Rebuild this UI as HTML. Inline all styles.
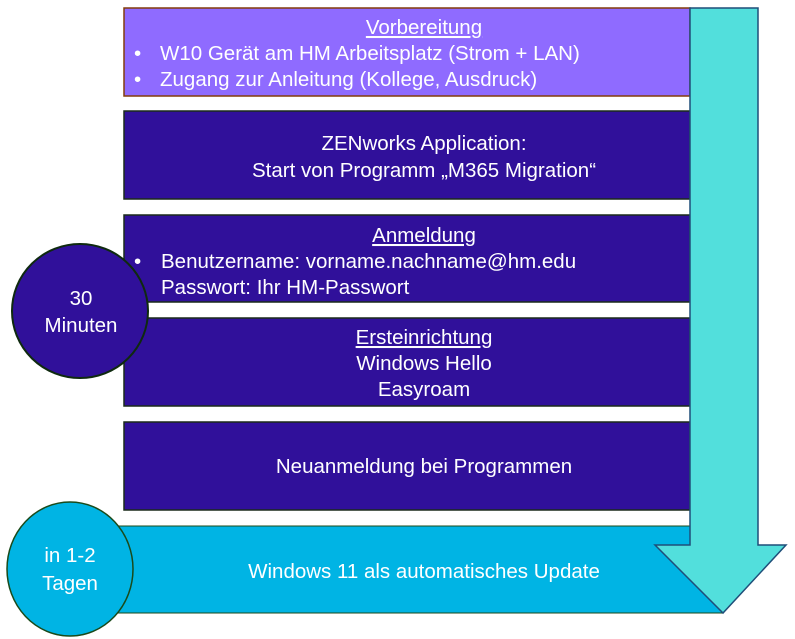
<!DOCTYPE html>
<html><head><meta charset="utf-8"><style>
html,body{margin:0;padding:0;background:#fff;}
svg{display:block;font-family:"Liberation Sans",sans-serif;}
</style></head><body>
<svg width="795" height="639" viewBox="0 0 795 639">
<rect x="124" y="8" width="566" height="88" fill="#8F6BFF" stroke="#843C0C" stroke-width="1.5"/>
<rect x="124" y="111" width="566" height="88" fill="#30109A" stroke="#1a2a1a" stroke-width="1.5"/>
<rect x="124" y="215" width="566" height="87" fill="#30109A" stroke="#1a2a1a" stroke-width="1.5"/>
<rect x="124" y="318" width="566" height="88" fill="#30109A" stroke="#1a2a1a" stroke-width="1.5"/>
<rect x="124" y="422" width="566" height="88" fill="#30109A" stroke="#1a2a1a" stroke-width="1.5"/>
<polygon points="100,526 723,526 723,613 100,613" fill="#00B4E4" stroke="#1a4a1a" stroke-width="1"/>
<polygon points="690,8 758,8 758,545 786,545 723,613 655,545 690,545" fill="#52DFDC" stroke="#1F4E79" stroke-width="1.5"/>
<ellipse cx="80" cy="311" rx="68" ry="67" fill="#30109A" stroke="#0f2a0f" stroke-width="2"/>
<ellipse cx="70" cy="569" rx="63" ry="67" fill="#00B4E4" stroke="#1a4a1a" stroke-width="1.5"/>
<g font-size="20.5" fill="#fff" text-anchor="middle">
<text x="424" y="34" text-decoration="underline">Vorbereitung</text>
<text x="424" y="150">ZENworks Application:</text>
<text x="424" y="177">Start von Programm „M365 Migration“</text>
<text x="424" y="242" text-decoration="underline">Anmeldung</text>
<text x="424" y="344" text-decoration="underline">Ersteinrichtung</text>
<text x="424" y="370">Windows Hello</text>
<text x="424" y="396">Easyroam</text>
<text x="424" y="473">Neuanmeldung bei Programmen</text>
<text x="424" y="578">Windows 11 als automatisches Update</text>
<text x="81" y="305">30</text>
<text x="81" y="332">Minuten</text>
<text x="70" y="562">in 1-2</text>
<text x="70" y="590">Tagen</text>
</g>
<g font-size="20.5" fill="#fff">
<text x="134" y="60">•</text><text x="160" y="60">W10 Gerät am HM Arbeitsplatz (Strom + LAN)</text>
<text x="134" y="86">•</text><text x="160" y="86">Zugang zur Anleitung (Kollege, Ausdruck)</text>
<text x="134" y="268">•</text><text x="161" y="268">Benutzername: vorname.nachname@hm.edu</text>
<text x="161" y="294">Passwort: Ihr HM-Passwort</text>
</g>
</svg>
</body></html>
